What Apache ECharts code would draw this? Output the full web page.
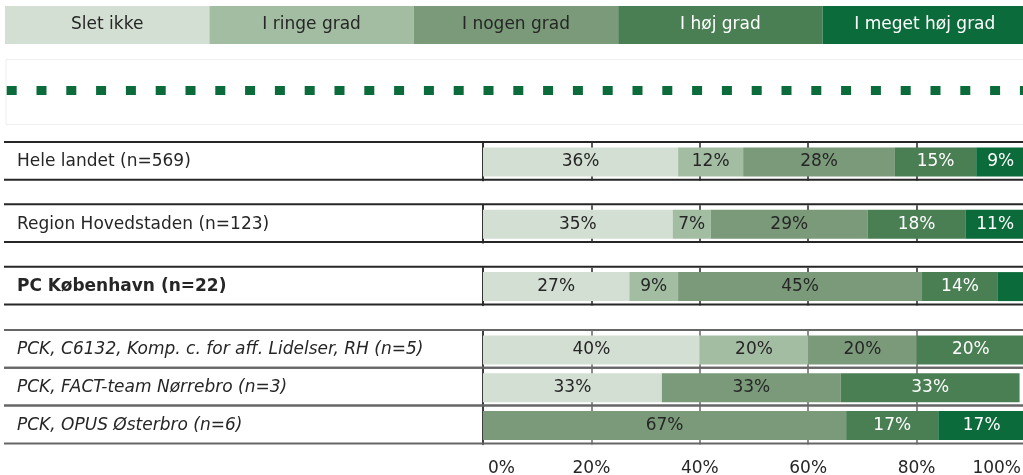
<!DOCTYPE html>
<html>
<head>
<meta charset="utf-8">
<script src="https://cdn.jsdelivr.net/npm/echarts@6/dist/echarts.min.js"></script>
<style>
  html, body { margin: 0; padding: 0; background: #ffffff; }
  #chart { width: 1023px; height: 475px; }
</style>
</head>
<body>
<div id="chart"></div>
<script>
// Answer categories (legend order, left to right in each bar)
const categories = ['Slet ikke', 'I ringe grad', 'I nogen grad', 'I høj grad', 'I meget høj grad'];

// Rows of the table, top to bottom
const rowLabels = [
  'Hele landet (n=569)',
  'Region Hovedstaden (n=123)',
  'PC København (n=22)',
  'PCK, C6132, Komp. c. for aff. Lidelser, RH (n=5)',
  'PCK, FACT-team Nørrebro (n=3)',
  'PCK, OPUS Østerbro (n=6)'
];

// Percent per answer category, one value per row
const sletIkke       = [36, 35, 27, 40, 33, 0];
const iRingeGrad     = [12,  7,  9, 20,  0, 0];
const iNogenGrad     = [28, 29, 45, 20, 33, 67];
const iHoejGrad      = [15, 18, 14, 20, 33, 17];
const iMegetHoejGrad = [ 9, 11,  5,  0,  0, 17];

const tickLabels = ['0%', '20%', '40%', '60%', '80%', '100%'];

const seriesValues = [sletIkke, iRingeGrad, iNogenGrad, iHoejGrad, iMegetHoejGrad];

// ---- styling / layout ----
const FONT = 'DejaVu Sans';
const FS = 17;
const barColors  = ['#d3dfd3', '#a3bda3', '#7a9a7a', '#4a7f54', '#0b6b3a'];
const textColors = ['#262626', '#262626', '#262626', '#ffffff', '#ffffff'];
const rowTops = [142, 204.3, 266.7, 330, 367.8, 405.6];
const ROW_H = 37.8;
const PLOT_LEFT = 483;
const PLOT_W = 542;
const rowFontStyle = [
  {}, {}, { fontWeight: 'bold' },
  { fontStyle: 'italic' }, { fontStyle: 'italic' }, { fontStyle: 'italic' }
];
const rowLineColor = ['#262626', '#262626', '#262626', '#666666', '#666666', '#666666'];
const LEG_W = 204.4;

const grids = [], xAxes = [], yAxes = [], series = [];

rowLabels.forEach((label, i) => {
  const last = i === rowLabels.length - 1;
  grids.push({
    left: PLOT_LEFT, width: PLOT_W, top: rowTops[i] + 1, height: ROW_H,
    containLabel: false, outerBoundsMode: 'none'
  });
  xAxes.push({
    gridIndex: i, type: 'value', min: 0, max: 100, interval: 20,
    axisLine: { show: false }, axisTick: { show: false },
    splitLine: { show: true, lineStyle: { color: rowLineColor[i], width: 1.5 } },
    axisLabel: {
      show: last, margin: 16, fontFamily: FONT, fontSize: FS, color: '#262626',
      alignMinLabel: 'left', alignMaxLabel: 'right',
      formatter: (v) => {
        const t = tickLabels[Math.round(v / 20)];
        if (v === 0) return '{lo|' + t + '}';
        if (v === 100) return '{hi|' + t + '}';
        return t;
      },
      rich: {
        lo: { fontFamily: FONT, fontSize: FS, color: '#262626', padding: [0, 0, 0, 5] },
        hi: { fontFamily: FONT, fontSize: FS, color: '#262626', padding: [0, 4, 0, 0] }
      }
    }
  });
  yAxes.push({
    gridIndex: i, type: 'category', data: [label],
    axisLine: { show: true, lineStyle: { color: '#262626', width: 1.5 } },
    axisTick: { show: false },
    splitLine: { show: false },
    axisLabel: Object.assign({
      align: 'left', margin: PLOT_LEFT - 17, fontFamily: FONT, fontSize: FS, color: '#262626'
    }, rowFontStyle[i])
  });
  categories.forEach((cat, c) => {
    series.push({
      name: cat, type: 'bar', stack: 'row' + i,
      xAxisIndex: i, yAxisIndex: i, barWidth: 29,
      data: [seriesValues[c][i]],
      itemStyle: { color: barColors[c] },
      label: {
        show: true, position: 'inside', fontFamily: FONT, fontSize: FS, color: textColors[c],
        formatter: (p) => (p.value >= 6 ? p.value + '%' : '')
      },
      emphasis: { disabled: true }
    });
  });
});

// Table rules above and below each row, spanning label column and bars
const graphics = [];
rowTops.forEach((t, i) => {
  [t, t + ROW_H].forEach((y) => {
    graphics.push({
      type: 'line', silent: true, z: 10,
      shape: { x1: 4, y1: y, x2: 1023, y2: y },
      style: { stroke: rowLineColor[i], lineWidth: 2 }
    });
  });
});
// Dotted marker strip below the legend
graphics.push({
  type: 'rect', silent: true,
  shape: { x: 6, y: 59.5, width: 1030, height: 65 },
  style: { fill: 'none', stroke: '#eeeeee', lineWidth: 1 }
});
graphics.push({
  type: 'line', silent: true,
  shape: { x1: 6.7, y1: 90.5, x2: 1023, y2: 90.5 },
  style: { stroke: '#0b6b3a', lineWidth: 9, lineDash: [10, 19.8] }
});

const legendRich = {};
categories.forEach((c, k) => {
  legendRich['c' + k] = {
    width: LEG_W, height: 38, lineHeight: 38, align: 'center',
    backgroundColor: barColors[k], color: textColors[k],
    fontFamily: FONT, fontSize: FS
  };
});

const chart = echarts.init(document.getElementById('chart'), null, { renderer: 'canvas' });
chart.setOption({
  animation: false,
  backgroundColor: '#ffffff',
  legend: {
    left: 0, top: 6, width: 1200, padding: 0, itemGap: -5, itemWidth: 0, itemHeight: 0,
    icon: 'rect', selectedMode: false,
    data: categories,
    formatter: (name) => '{c' + categories.indexOf(name) + '|' + name + '}',
    textStyle: { rich: legendRich }
  },
  grid: grids,
  xAxis: xAxes,
  yAxis: yAxes,
  series: series,
  graphic: graphics
});
</script>
</body>
</html>
